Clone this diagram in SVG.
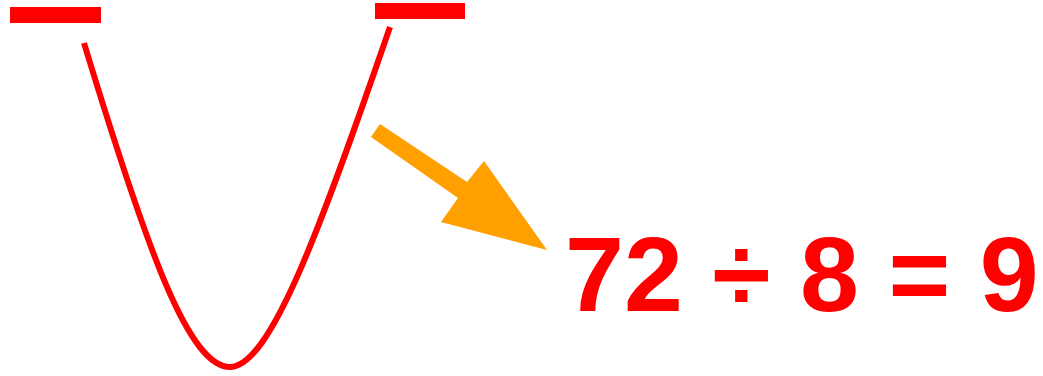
<svg xmlns="http://www.w3.org/2000/svg" width="1043" height="376" viewBox="0 0 1043 376">
<style>
.bar{fill:#ff0000}
.curve{fill:none;stroke:#ff0000;stroke-width:6}
.arrow{fill:#ff9f00}
.eq{font-family:"Liberation Sans",Arial,sans-serif;font-weight:bold;font-size:106px;fill:#ff0000}
</style>
<g id="bar-left"><rect class="bar" x="10" y="7" width="91" height="16"/></g>
<g id="bar-right"><rect class="bar" x="375" y="3" width="90" height="16"/></g>
<g id="curve"><path class="curve" d="M84,43 C150,260 190,367 230,367 C270,367 320,230 390,27"/></g>
<g id="connectors">
<polygon class="arrow" points="371,137 380,124 467,182 484,161 547,250 441,222 458,198"/>
</g>
<g id="equation"><text class="eq" x="565" y="311">72 ÷ 8 = 9</text></g>
</svg>
